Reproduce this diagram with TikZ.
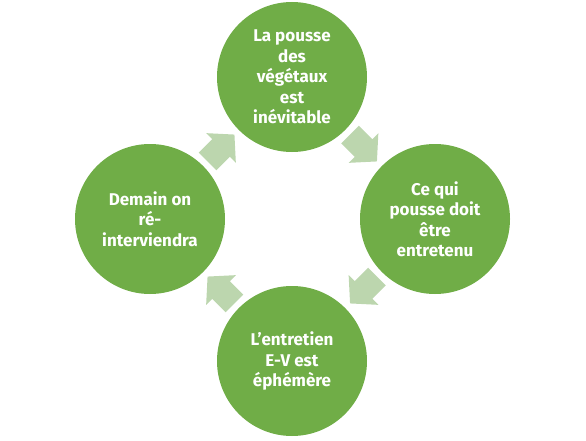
\documentclass[tikz,border=0pt]{standalone}
\usepackage{fontspec}
\setmainfont{Fira Sans}
\usetikzlibrary{calc}
\definecolor{circgreen}{HTML}{70AD47}
\definecolor{arrgreen}{HTML}{BCD6AE}
\begin{document}
\begin{tikzpicture}[x=1pt,y=1pt,
  stage/.style={circle,fill=circgreen,draw=none,minimum size=150pt,inner sep=0pt,
    text=white,font=\fontsize{17}{20.5}\selectfont\bfseries,align=center},
  cyclearrow/.style={fill=arrgreen,draw=none}]
\useasboundingbox (0,0) rectangle (586,440);
\node[stage] (top) at (292,363) {La pousse\\des\\végétaux\\est\\inévitable};
\node[stage] (right) at (435,221) {Ce qui\\pousse doit\\être\\entretenu};
\node[stage] (bottom) at (292,79) {L’entretien\\E-V est\\éphémère};
\node[stage] (left) at (150,221) {Demain on\\ré-\\interviendra};
\coordinate (m1) at ($(top)!0.5!(right)$);
\coordinate (m2) at ($(right)!0.5!(bottom)$);
\coordinate (m3) at ($(bottom)!0.5!(left)$);
\coordinate (m4) at ($(left)!0.5!(top)$);
\foreach \m/\ang in {m1/-45,m2/-135,m3/135,m4/45}{
  \fill[cyclearrow,shift={(\m)},rotate=\ang]
    (-19,-12.5) -- (0,-12.5) -- (0,-21) -- (19,0) -- (0,21) -- (0,12.5) -- (-19,12.5) -- cycle;
}
\end{tikzpicture}
\end{document}
